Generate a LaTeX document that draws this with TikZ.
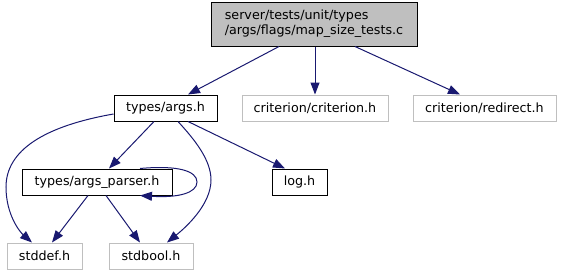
\documentclass[tikz,border=0pt]{standalone}
\usepackage{fontspec}
\setmainfont{DejaVu Sans}
\usetikzlibrary{arrows.meta}
\definecolor{edgeblue}{HTML}{191970}
\definecolor{softgray}{HTML}{BFBFBF}
\begin{document}
\begin{tikzpicture}[x=1pt,y=-1pt,
  every node/.style={font=\fontsize{12.7}{15}\selectfont, inner sep=0pt, rectangle},
  filebox/.style={draw=black, line width=1pt},
  extbox/.style={draw=softgray, line width=1pt},
  rootbox/.style={draw=black, fill=softgray, line width=1pt, align=left},
  dep/.style={draw=edgeblue, line width=1pt, -{Triangle[length=12pt,width=9pt]}, edgeblue}]
\useasboundingbox (0,0) rectangle (561,276);

\node[rootbox, minimum width=206pt, minimum height=44pt] (root) at (314,24)
  {server/tests/unit/types\\/args/flags/map\_size\_tests.c};
\node[filebox, minimum width=103pt, minimum height=26pt] (args) at (165.5,108) {types/args.h};
\node[extbox, minimum width=146pt, minimum height=26pt] (crit) at (315,108) {criterion/criterion.h};
\node[extbox, minimum width=143pt, minimum height=26pt] (redir) at (484.5,108) {criterion/redirect.h};
\node[filebox, minimum width=150pt, minimum height=26pt] (parser) at (97,182) {types/args\_parser.h};
\node[filebox, minimum width=55pt, minimum height=26pt] (log) at (299.5,182) {log.h};
\node[extbox, minimum width=75pt, minimum height=26pt] (stddef) at (44.5,256) {stddef.h};
\node[extbox, minimum width=84pt, minimum height=26pt] (stdbool) at (151,256) {stdbool.h};

% includes of the test file
\draw[dep] ([xshift=-35pt]root.south) -- ([xshift=22.5pt]args.north);
\draw[dep] (crit.north |- root.south) -- (crit.north);
\draw[dep] ([xshift=41pt]root.south) -- ([xshift=-24.5pt]redir.north);

% includes of types/args.h
\draw[dep] ([xshift=-11.5pt]args.south) -- ([xshift=12pt]parser.north);
\draw[dep] ([xshift=22.5pt]args.south) -- ([xshift=-14.5pt]log.north);
\draw[dep] ([yshift=-6pt]args.west) .. controls (45,126) and (6,150) .. (6,187)
  .. controls (6,215) and (20,232) .. ([xshift=-12.5pt]stddef.north);
\draw[dep] ([xshift=12.5pt]args.south) .. controls (195,140) and (211,160) .. (211,180)
  .. controls (211,205) and (185,228) .. ([xshift=16pt]stdbool.north);

% includes of types/args_parser.h
\draw[dep] ([xshift=-9pt]parser.south) -- ([xshift=7.5pt]stddef.north);
\draw[dep] ([xshift=9pt]parser.south) -- ([xshift=-11pt]stdbool.north);
\draw[dep] ([xshift=43pt]parser.north) .. controls (178,165) and (197,171) .. (197,182)
  .. controls (197,193) and (178,198) .. ([xshift=43pt]parser.south);
\end{tikzpicture}
\end{document}
